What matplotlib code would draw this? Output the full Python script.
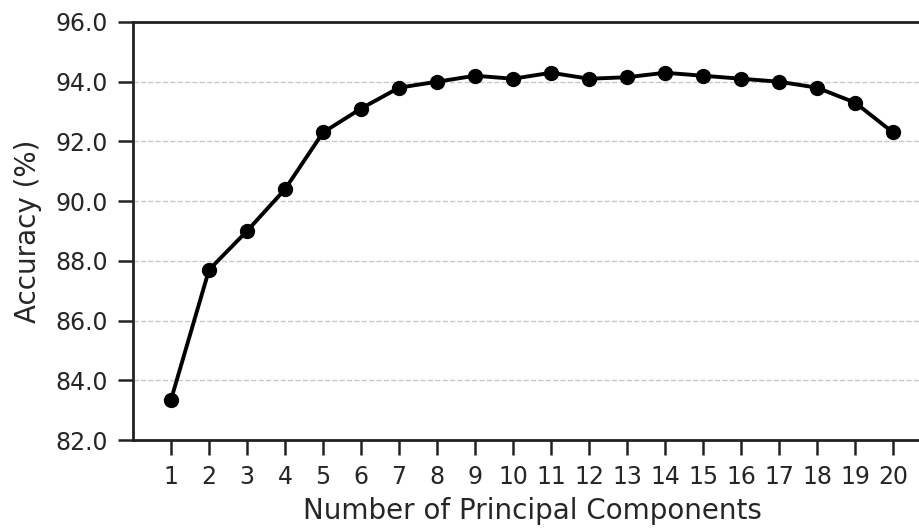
import matplotlib
matplotlib.use("Agg")
import matplotlib.pyplot as plt

# data
components = list(range(1, 21))
accuracy = [83.35, 87.7, 89.0, 90.4, 92.3, 93.1, 93.8, 94.0, 94.2, 94.1,
            94.3, 94.1, 94.15, 94.3, 94.2, 94.1, 94.0, 93.8, 93.3, 92.3]
y_ticks = [82, 84, 86, 88, 90, 92, 94, 96]

plt.rcParams['font.family'] = ['DejaVu Sans']
text_col = '#262626'

fig = plt.figure(figsize=(9.2, 5.3), dpi=100)
# axes runs past the right edge like the reference crop
ax = fig.add_axes([0.1446, 0.1698, 0.8674, 0.7887])

ax.plot(components, accuracy, color='black', linewidth=2.8,
        marker='o', markersize=10)

ax.set_xlim(0, 21)
ax.set_ylim(82, 96)
ax.set_xticks(components)
ax.set_yticks(y_ticks)
ax.set_yticklabels(['%.1f' % v for v in y_ticks])

ax.yaxis.grid(True, linestyle='--', color='#c8c8c8', linewidth=1.0)
ax.set_axisbelow(True)

for side in ['left', 'top', 'bottom']:
    ax.spines[side].set_linewidth(2.0)
    ax.spines[side].set_color('#222222')
ax.spines['right'].set_visible(False)

ax.tick_params(axis='both', direction='out', length=11, width=1.8,
               color='#222222', labelsize=17, labelcolor=text_col, pad=7)

ax.set_xlabel('Number of Principal Components', fontsize=20, color=text_col, labelpad=6)
ax.set_ylabel('Accuracy (%)', fontsize=20, color=text_col, labelpad=10)

fig.savefig('out.png', dpi=100)
